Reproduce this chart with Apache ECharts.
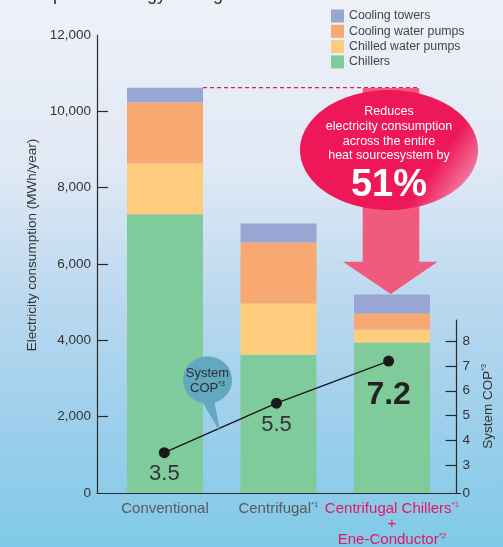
<!DOCTYPE html>
<html><head><meta charset="utf-8">
<script src="https://cdn.jsdelivr.net/npm/echarts@6/dist/echarts.min.js"></script>
<style>html,body{margin:0;padding:0;background:#fff;}#c{width:503px;height:547px;}</style>
</head><body><div id="c"></div>
<script>
// ---- data ----
const categories = ['Conventional', 'Centrifugal', 'Centrifugal Chillers + Ene-Conductor'];
const seriesNames = ['Chillers', 'Chilled water pumps', 'Cooling water pumps', 'Cooling towers'];
const chillers = [7300, 3620, 3940];
const chilledPumps = [1330, 1340, 340];
const coolingPumps = [1600, 1600, 420];
const coolingTowers = [390, 500, 500];
const systemCOP = [3.5, 5.5, 7.2];
const yTicks = [0, 2000, 4000, 6000, 8000, 10000, 12000];
const copTicks = [3, 4, 5, 6, 7, 8];

// ---- chart ----
const FONT = "'Liberation Sans', Arial, sans-serif";
const colors = ['#80CB9C', '#FDCC7D', '#F8A871', '#99A5D3'];
const stacks = [chillers, chilledPumps, coolingPumps, coolingTowers];
const totals = categories.map((_, i) => stacks.reduce((s, a) => s + a[i], 0));
const copMin = 1.868, copMax = 8.861;

const chart = echarts.init(document.getElementById('c'), null, {renderer: 'canvas'});

const axisColor = '#2a2a2a';
const labelRich = {
  g: {fontSize: 15, color: '#5a5a5a', fontFamily: FONT, lineHeight: 15.5},
  gs: {fontSize: 8, color: '#5a5a5a', fontFamily: FONT, lineHeight: 15.5, verticalAlign: 'top'},
  p: {fontSize: 15, color: '#E2195F', fontFamily: FONT, lineHeight: 15.5},
  ps: {fontSize: 8, color: '#E2195F', fontFamily: FONT, lineHeight: 15.5, verticalAlign: 'top'}
};
function catLabel(v, i) {
  if (i === 0) return '{g|' + v + '}';
  if (i === 1) return '{g|' + v + '}{gs|*1}';
  const parts = v.split(' + ');
  return '{p|' + parts[0] + '}{ps|*1}\n{p|+}\n{p|' + parts[1] + '}{ps|*2}';
}

const option = {
  animation: false,
  textStyle: {fontFamily: FONT},
  grid: [
    {left: 97, top: 35, width: 363.7, height: 458},
    {left: 108.25, top: 35, width: 340.5, height: 458},
    {left: 108.25, top: 320, width: 340.5, height: 173}
  ],
  legend: {
    data: seriesNames.slice().reverse(), orient: 'vertical', left: 326, top: 4.5,
    itemWidth: 13, itemHeight: 13, itemGap: 2.3, icon: 'rect', selectedMode: false,
    textStyle: {fontSize: 12.3, color: '#444', fontFamily: FONT}
  },
  xAxis: [
    {gridIndex: 0, type: 'category', data: categories, axisLine: {lineStyle: {color: axisColor, width: 1.2}},
     axisTick: {show: false}, axisLabel: {show: false}},
    {gridIndex: 1, type: 'category', data: categories, axisLine: {show: false}, axisTick: {show: false},
     axisLabel: {interval: 0, margin: 8, formatter: catLabel, rich: labelRich}},
    {gridIndex: 2, type: 'category', data: categories, show: false}
  ],
  yAxis: [
    {gridIndex: 0, type: 'value', min: yTicks[0], max: yTicks[yTicks.length - 1], interval: yTicks[1] - yTicks[0],
     axisLine: {show: true, lineStyle: {color: axisColor, width: 1.2}},
     axisTick: {show: true, inside: true, length: 11, lineStyle: {color: axisColor, width: 1.2},
                customValues: yTicks.slice(1, -1)},
     axisLabel: {margin: 6, fontSize: 13.5, color: '#333', formatter: v => v.toLocaleString('en-US')},
     splitLine: {show: false},
     name: 'Electricity consumption (MWh/year)', nameLocation: 'middle', nameGap: 58,
     nameTextStyle: {fontSize: 13.5, color: '#333', padding: [0, 0, 0, 38]}},
    {gridIndex: 1, type: 'value', min: yTicks[0], max: yTicks[yTicks.length - 1], show: false},
    {gridIndex: 2, type: 'value', position: 'right', offset: 11.9, min: copMin, max: copMax,
     axisLine: {show: true, lineStyle: {color: axisColor, width: 1.2}},
     axisTick: {show: true, inside: true, length: 11, lineStyle: {color: axisColor, width: 1.2}, customValues: copTicks},
     axisLabel: {margin: 6, fontSize: 13.5, color: '#333', customValues: [copMin].concat(copTicks),
                 formatter: v => (v < copTicks[0] ? '0' : String(v))},
     splitLine: {show: false},
     name: '{a|System COP}{s|*3}', nameLocation: 'middle', nameRotate: 90, nameGap: 19,
     nameTextStyle: {rich: {a: {fontSize: 13.5, color: '#333', fontFamily: FONT, lineHeight: 14},
                            s: {fontSize: 7, color: '#333', fontFamily: FONT, lineHeight: 14, verticalAlign: 'top'}}}}
  ],
  series: stacks.map((arr, k) => ({
    name: seriesNames[k], type: 'bar', stack: 'total', xAxisIndex: 1, yAxisIndex: 1,
    data: arr, barWidth: 76, itemStyle: {color: colors[k]}, emphasis: {disabled: true}
  })).concat([{
    name: 'System COP', type: 'line', xAxisIndex: 2, yAxisIndex: 2, z: 5,
    data: systemCOP.map((v, i) => i === systemCOP.length - 1
      ? {value: v, label: {fontSize: 32, fontWeight: 'bold', color: '#222', distance: 13}}
      : {value: v}),
    symbol: 'circle', symbolSize: 11,
    lineStyle: {color: '#1a1a1a', width: 1.5}, itemStyle: {color: '#1a1a1a'},
    label: {show: true, position: 'bottom', distance: 5, fontSize: 22, color: '#333', fontFamily: FONT},
    emphasis: {disabled: true}
  }]),
  graphic: [
    {type: 'rect', z: -100, silent: true, shape: {x: 0, y: 0, width: 503, height: 547},
     style: {fill: new echarts.graphic.LinearGradient(0, 0, 0, 1, [
       {offset: 0, color: '#EEF1F8'}, {offset: 0.3, color: '#E1E9F5'}, {offset: 0.55, color: '#BBD8EF'},
       {offset: 0.75, color: '#A0D0EC'}, {offset: 1, color: '#80C9E8'}])}},
    {type: 'text', z: 100, x: 7, y: -5, style: {text: 'Examples of energy saving effects', fill: '#2b2b2b',
      fontSize: 18, fontFamily: FONT, align: 'left', verticalAlign: 'middle'}},
    {id: 'dash', type: 'line', z: 99, shape: {x1: 0, y1: 0, x2: 0, y2: 0}, style: {stroke: 'none'}},
    {type: 'polygon', z: 100, shape: {points: [[362.7, 88], [419.3, 88], [419.3, 261.7], [437.7, 261.7],
      [390.7, 294], [343, 261.7], [362.7, 261.7]]}, style: {fill: '#F05A7E'}},
    {type: 'ellipse', z: 101, shape: {cx: 389, cy: 150, rx: 89, ry: 60},
     style: {fill: new echarts.graphic.LinearGradient(0, 0, 1, 1, [
       {offset: 0, color: '#EE1859'}, {offset: 0.72, color: '#EE1859'}, {offset: 0.88, color: '#F3759A'},
       {offset: 1, color: '#FCE3EA'}])}},
    {type: 'text', z: 102, x: 389, y: 133.8, style: {text: 'Reduces\nelectricity consumption\nacross the entire\nheat sourcesystem by',
      fill: '#fff', fontSize: 12.5, lineHeight: 14.7, fontFamily: FONT, align: 'center', verticalAlign: 'middle'}},
    {type: 'text', z: 102, x: 389, y: 186, style: {text: '51%', fill: '#fff', fontSize: 38, fontWeight: 'bold',
      fontFamily: FONT, align: 'center', verticalAlign: 'middle'}},
    {type: 'polygon', z: 100, shape: {points: [[199, 396], [214, 399], [220, 432]]}, style: {fill: '#63A8BE'}},
    {type: 'ellipse', z: 100, shape: {cx: 207.5, cy: 380, rx: 24.5, ry: 23.5}, style: {fill: '#63A8BE'}},
    {type: 'text', z: 102, x: 207.5, y: 381, style: {text: '{a|System}\n{a|COP}{s|*3}', align: 'center', verticalAlign: 'middle',
      rich: {a: {fontSize: 13, fill: '#263238', color: '#263238', fontFamily: FONT, lineHeight: 15},
             s: {fontSize: 7, fill: '#263238', color: '#263238', fontFamily: FONT, lineHeight: 15, verticalAlign: 'top'}}}}
  ]
};
chart.setOption(option);

// dashed reference line from the top of the first bar to the reduction arrow
const p0 = chart.convertToPixel({xAxisIndex: 1, yAxisIndex: 1}, [0, totals[0]]);
const p2 = chart.convertToPixel({xAxisIndex: 1, yAxisIndex: 1}, [2, totals[0]]);
chart.setOption({graphic: [{id: 'dash', type: 'line',
  shape: {x1: p0[0] + 38, y1: p0[1], x2: p2[0] + 28, y2: p2[1]},
  style: {stroke: '#E8175D', lineWidth: 1.3, lineDash: [4, 3]}}]});
</script></body></html>
